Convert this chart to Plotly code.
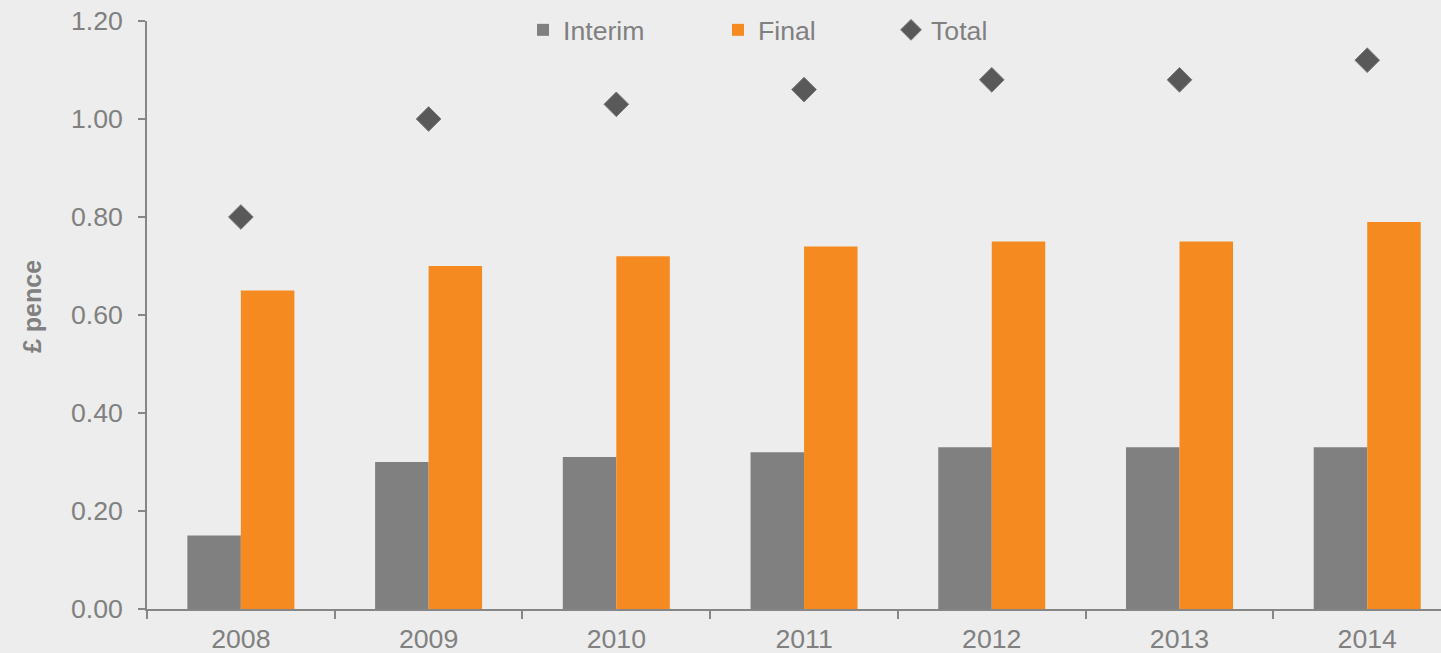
import plotly.graph_objects as go

years = ["2008", "2009", "2010", "2011", "2012", "2013", "2014"]
interim = [0.15, 0.30, 0.31, 0.32, 0.33, 0.33, 0.33]
final = [0.65, 0.70, 0.72, 0.74, 0.75, 0.75, 0.79]
total = [0.80, 1.00, 1.03, 1.06, 1.08, 1.08, 1.12]
y_ticks = [0.0, 0.2, 0.4, 0.6, 0.8, 1.0, 1.2]

W, H = 1441, 653
ML, MR, MT, MB = 147, 0, 21, 653 - 609
PW, PH = W - ML - MR, H - MT - MB

def px_x(p):
    return (p - ML) / PW

def px_y(p):
    return 1 - (p - MT) / PH

FONT = "Liberation Sans, Arial, sans-serif"
GREY = "#808080"
FS = 26.67
BG = "#EDEDED"

fig = go.Figure()
fig.add_trace(go.Bar(x=years, y=interim, name="Interim", marker_color="#808080",
                     marker_line_width=0, legend="legend", showlegend=True))
fig.add_trace(go.Bar(x=years, y=final, name="Final", marker_color="#F58B20",
                     marker_line_width=0, legend="legend2", showlegend=True))
fig.add_trace(go.Scatter(x=years, y=total, name="Total", mode="markers",
                         marker=dict(symbol="diamond", size=19, color="#595959",
                                     line=dict(color="#7a7a7a", width=1)),
                         legend="legend3", showlegend=True))

leg_common = dict(orientation="h", bgcolor="rgba(0,0,0,0)", borderwidth=0,
                  font=dict(family=FONT, size=FS, color=GREY),
                  yanchor="middle", xanchor="left", y=px_y(30), visible=True)

fig.update_layout(
    width=W, height=H, showlegend=True,
    margin=dict(l=ML, r=MR, t=MT, b=MB, pad=0),
    paper_bgcolor=BG, plot_bgcolor=BG,
    barmode="group", bargap=0.43, bargroupgap=0,
    font=dict(family=FONT, size=FS, color=GREY),
    legend=dict(x=px_x(523), **leg_common),
    legend2=dict(x=px_x(718), **leg_common),
    legend3=dict(x=px_x(891), **leg_common),
    xaxis=dict(type="category", range=[-0.5, 6.393], showline=True, linecolor="#868686",
               linewidth=1.5, ticks="outside", ticklen=8, tickcolor="#868686", tickwidth=1.5,
               tickson="boundaries", showgrid=False, zeroline=False,
               ticklabelstandoff=5, ticklabeloverflow="allow",
               tickfont=dict(family=FONT, size=FS, color=GREY)),
    yaxis=dict(range=[0, 1.2], tickvals=y_ticks, tickformat=".2f", showline=True,
               linecolor="#868686", linewidth=1.5, ticks="outside", ticklen=7,
               tickcolor="#868686", tickwidth=1.5, showgrid=False, zeroline=False,
               ticklabelstandoff=10, ticklabeloverflow="allow",
               tickfont=dict(family=FONT, size=FS, color=GREY)),
    annotations=[dict(text="<b>£ pence</b>", xref="paper", yref="paper",
                      x=px_x(32), y=px_y(307), textangle=-90, showarrow=False,
                      xanchor="center", yanchor="middle",
                      font=dict(family=FONT, size=25, color=GREY))],
)

post = ("document.body.style.margin='0px';"
        "document.body.style.backgroundColor='#EDEDED';"
        "document.documentElement.style.overflow='hidden';")
fig.write_html("out.html", post_script=post, config={"displayModeBar": False})
